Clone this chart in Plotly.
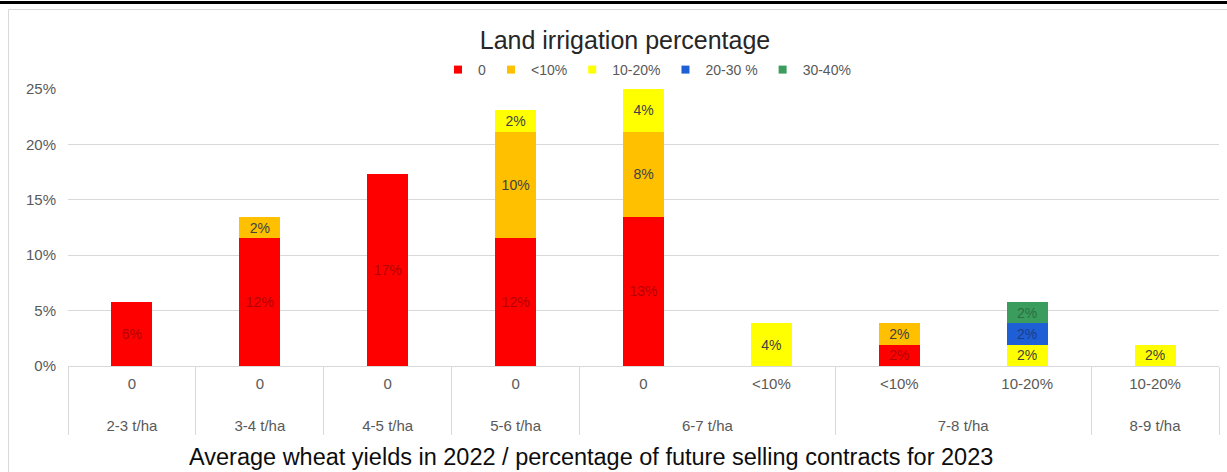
import plotly.graph_objects as go

# Two-level categories: yield band (outer) / share of future selling contracts (inner)
yield_band = ["2-3 t/ha", "3-4 t/ha", "4-5 t/ha", "5-6 t/ha", "6-7 t/ha",
              "6-7 t/ha", "7-8 t/ha", "7-8 t/ha", "8-9 t/ha"]
contracts = ["0", "0", "0", "0", "0", "<10%", "<10%", "10-20%", "10-20%"]

# Share of farms (%) by land irrigation percentage
irr_0 = [5.77, 11.54, 17.31, 11.54, 13.46, None, 1.92, None, None]
irr_lt10 = [None, 1.92, None, 9.62, 7.69, None, 1.92, None, None]
irr_10_20 = [None, None, None, 1.92, 3.85, 3.85, None, 1.92, 1.92]
irr_20_30 = [None, None, None, None, None, None, None, 1.92, None]
irr_30_40 = [None, None, None, None, None, None, None, 1.92, None]

series = [
    ("0", irr_0, "#ff0000", "#b30000"),
    ("<10%", irr_lt10, "#ffc000", "#404040"),
    ("10-20%", irr_10_20, "#ffff00", "#404040"),
    ("20-30 %", irr_20_30, "#1f5fd6", "#1a3d8a"),
    ("30-40%", irr_30_40, "#3a9d5d", "#2a6e42"),
]

W, H = 1227, 472
X0, X1, Y0, Y1 = 68, 1219, 89, 366  # plot area in pixels


def px_x(p):
    return (p - X0) / (X1 - X0)


def px_y(p):
    return (Y1 - p) / (Y1 - Y0)


FONT = "Liberation Sans, Arial, sans-serif"
LABEL_PX = 15  # visible size of the category labels


def lbl(s):
    return f"<span style='font-size:{LABEL_PX}px'>{s}</span>"


# outer row sits one (taller) blank line lower, leaving room under the inner labels
inner_row = [lbl(c) for c in contracts]
outer_row = ["<br>" + lbl(b) for b in yield_band]

fig = go.Figure()
for name, vals, color, txtcolor in series:
    fig.add_trace(go.Bar(
        x=[outer_row, inner_row], y=vals, name=name,
        marker=dict(color=color, line=dict(width=0)),
        texttemplate="%{y:.0f}%", textposition="inside",
        insidetextanchor="middle", textangle=0, constraintext="none",
        textfont=dict(family=FONT, size=14, color=txtcolor),
        showlegend=False, hoverinfo="skip",
    ))
    # small square legend key
    fig.add_trace(go.Scatter(
        x=[[outer_row[0]], [inner_row[0]]], y=[None], name=name, mode="markers",
        marker=dict(symbol="square", size=8, color=color),
        showlegend=True, hoverinfo="skip",
    ))

fig.update_layout(
    width=W, height=H,
    margin=dict(l=X0, r=W - X1, t=Y0, b=H - Y1),
    paper_bgcolor="white", plot_bgcolor="white",
    barmode="stack", bargap=0.68,
    font=dict(family=FONT, color="#595959"),
    title=dict(text="Land irrigation percentage", x=625 / W, xanchor="center",
               y=1 - 40 / H, yanchor="middle", xref="container", yref="container",
               font=dict(family=FONT, size=25, color="#262626")),
    legend=dict(orientation="h", x=px_x(647), xanchor="center", y=px_y(70),
                yanchor="middle", traceorder="normal",
                font=dict(family=FONT, size=14, color="#595959"),
                itemwidth=30, bgcolor="rgba(0,0,0,0)"),
    xaxis=dict(type="multicategory", showgrid=False, showline=True,
               linecolor="#d9d9d9", linewidth=1, ticks="",
               showdividers=True, dividercolor="#d9d9d9", dividerwidth=1,
               tickfont=dict(family=FONT, size=18, color="#595959"),
               ticklabelstandoff=0, automargin=False),
    yaxis=dict(range=[0, 25], dtick=5, ticksuffix="%", showgrid=True,
               gridcolor="#d9d9d9", gridwidth=1, zeroline=False, showline=False,
               tickfont=dict(family=FONT, size=15, color="#595959"),
               ticklabelstandoff=11, automargin=False),
)

fig.add_annotation(
    text="Average wheat yields in 2022 / percentage of future selling contracts for 2023",
    xref="paper", yref="paper", x=px_x(591), y=px_y(457), xanchor="center",
    yanchor="middle", showarrow=False,
    font=dict(family=FONT, size=23.5, color="#0d0d0d"),
)

# chart frame and the dark rule above it
fig.add_shape(type="rect", xref="paper", yref="paper",
              x0=px_x(8.5), x1=px_x(1235), y0=px_y(480), y1=px_y(9.5),
              line=dict(color="#d9d9d9", width=1), fillcolor="rgba(0,0,0,0)",
              layer="below")
fig.add_shape(type="line", xref="paper", yref="paper",
              x0=px_x(-5), x1=px_x(W + 5), y0=px_y(2.5), y1=px_y(2.5),
              line=dict(color="#000000", width=3))

fig.write_html("out.html")
